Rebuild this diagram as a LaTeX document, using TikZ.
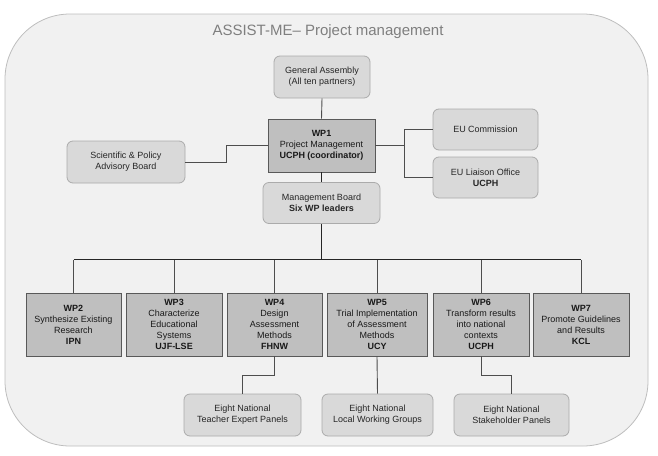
\documentclass[tikz,border=0pt]{standalone}
\usepackage{fontspec}
\setmainfont{Liberation Sans}
\usepackage{tikz}
\usetikzlibrary{positioning}
\definecolor{FrameFill}{HTML}{F1F1F1}
\definecolor{FrameLine}{HTML}{BDBDBD}
\definecolor{BoardFill}{HTML}{D9D9D9}
\definecolor{BoardLine}{HTML}{ABABAB}
\definecolor{PackFill}{HTML}{BFBFBF}
\definecolor{PackLine}{HTML}{595959}
\definecolor{LinkGrey}{HTML}{4D4D4D}
\definecolor{TitleGrey}{HTML}{7F7F7F}

\begin{document}
\begin{tikzpicture}[x=1pt, y=-1pt,
  board/.style={draw=BoardLine, fill=BoardFill, line width=0.8pt, rounded corners=6pt,
    align=center, inner sep=0pt, font=\fontsize{9}{11}\selectfont, text=black!85},
  pack/.style={draw=PackLine, fill=PackFill, line width=0.9pt, align=center,
    inner sep=0pt, font=\fontsize{9}{11}\selectfont, text=black!90},
  link/.style={draw=LinkGrey, line width=0.9pt},
  trunk/.style={draw=black!85, line width=1.6pt}]
  \useasboundingbox (0,0) rectangle (658,455);

  % Outer frame and title
  \draw[FrameLine, fill=FrameFill, line width=0.8pt, rounded corners=65pt] (5,14) rectangle (648,446);
  \node[TitleGrey, font=\fontsize{15}{18}\selectfont] (title) at (328,32) {ASSIST-ME-- Project management};

  % Management level
  \node[board, minimum width=96pt, minimum height=42pt] (ga) at (322,77) {General Assembly\\(All ten partners)};
  \node[pack, minimum width=107pt, minimum height=53pt] (wp1) at (321.5,145.5) {\textbf{WP1}\\Project Management\\\textbf{UCPH (coordinator)}};
  \node[board, minimum width=118pt, minimum height=42pt] (sab) at (126,162) {Scientific \& Policy\\Advisory Board};
  \node[board, minimum width=105pt, minimum height=41pt] (euc) at (485.5,129.5) {EU Commission};
  \node[board, minimum width=105pt, minimum height=41pt] (eul) at (485.5,177.5) {EU Liaison Office\\\textbf{UCPH}};
  \node[board, minimum width=117pt, minimum height=41pt] (mb) at (321.5,203) {Management Board\\\textbf{Six WP leaders}};

  % Work packages
  \node[pack, minimum width=95pt, minimum height=63pt] (wp2) at (73.5,324.5) {\textbf{WP2}\\Synthesize Existing\\Research\\\textbf{IPN}};
  \node[pack, minimum width=96pt, minimum height=63pt] (wp3) at (174,324.5) {\textbf{WP3}\\Characterize\\Educational\\Systems\\\textbf{UJF-LSE}};
  \node[pack, minimum width=95pt, minimum height=63pt] (wp4) at (274.5,324.5) {\textbf{WP4}\\Design\\Assessment\\Methods\\\textbf{FHNW}};
  \node[pack, minimum width=100pt, minimum height=63pt] (wp5) at (377,324.5) {\textbf{WP5}\\Trial Implementation\\of Assessment\\Methods\\\textbf{UCY}};
  \node[pack, minimum width=96pt, minimum height=63pt] (wp6) at (481,324.5) {\textbf{WP6}\\Transform results\\into national\\contexts\\\textbf{UCPH}};
  \node[pack, minimum width=96pt, minimum height=63pt] (wp7) at (581,324.5) {\textbf{WP7}\\Promote Guidelines\\and Results\\\textbf{KCL}};

  % National panels
  \node[board, minimum width=117pt, minimum height=42pt] (tep) at (242.5,415) {Eight National\\Teacher Expert Panels};
  \node[board, minimum width=111pt, minimum height=42pt] (lwg) at (377.5,415) {Eight National\\Local Working Groups};
  \node[board, minimum width=115pt, minimum height=42pt] (shp) at (511.5,415) {Eight National\\Stakeholder Panels};

  % Connectors
  \draw[link] (ga.south) -- (wp1.north);
  \draw[link] (sab.east) -- ++(41,0) |- (wp1.west);
  \draw[link] (wp1.east) -- ++(29,0) coordinate (eujoin);
  \draw[link] (euc.west) -| (eujoin) |- (eul.west);
  \draw[trunk] (wp1.south) -- (mb.north);
  \draw[trunk] (mb.south) -- ++(0,36) coordinate (hub);
  \foreach \w in {wp2,wp3,wp4,wp5,wp6,wp7}
    \draw[link] (\w.north) -- (\w.north |- hub);
  \draw[trunk, line width=1pt] (wp2.north |- hub) -- (wp7.north |- hub);
  \draw[link] (wp4.south) -- ++(0,19) -| (tep.north);
  \draw[link] (wp5.south) -- (lwg.north);
  \draw[link] (wp6.south) -- ++(0,19) -| (shp.north);
\end{tikzpicture}
\end{document}
